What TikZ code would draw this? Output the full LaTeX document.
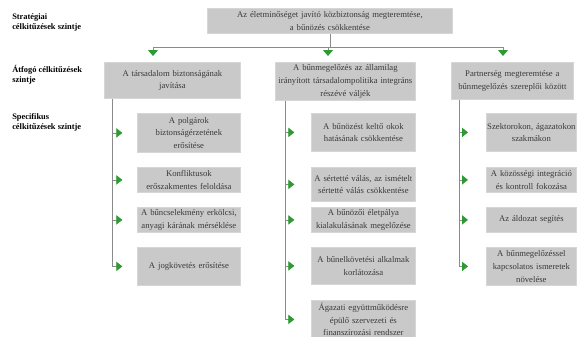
\documentclass[tikz,border=0pt]{standalone}
\usepackage{fontspec}
\setmainfont{Liberation Serif}
\usepackage{tikz}
\usetikzlibrary{arrows.meta,positioning}
\definecolor{boxGray}{HTML}{C9C9C9}
\definecolor{boxEdge}{HTML}{D6D6D6}
\definecolor{boxText}{HTML}{3A3A3A}
\definecolor{linkGray}{HTML}{8A8A8A}
\definecolor{tipGreen}{HTML}{2E9A34}
\tikzset{
  goalbox/.style={fill=boxGray,draw=boxEdge,line width=0.6pt,anchor=north west,
    inner xsep=1.5pt,inner ysep=1pt,align=center,text=boxText,
    font=\fontsize{6.5}{9.5}\selectfont},
  narrowbox/.style={goalbox,inner xsep=0.25pt,text width=67pt},
  levellabel/.style={anchor=north west,inner sep=0pt,align=left,
    font=\fontsize{6.3}{7.8}\selectfont\bfseries},
  link/.style={draw=linkGray,line width=0.6pt},
  arrD/.style={link,-{Triangle[length=4.5pt,width=7.5pt,color=tipGreen]}},
  arrR/.style={link,-{Triangle[length=4.5pt,width=7pt,color=tipGreen]}}
}

\begin{document}
\begin{tikzpicture}[x=0.75pt,y=-0.75pt]
    \useasboundingbox (0,0) rectangle (578,336);
    % szintek
    \node[levellabel] (lv1) at (12,13) {Stratégiai\\célkitűzések szintje};
    \node[levellabel] (lv2) at (12,65) {Átfogó célkitűzések\\szintje};
    \node[levellabel] (lv3) at (12,113) {Specifikus\\célkitűzések szintje};
    % stratégiai cél
    \node[goalbox,text width=180.75pt,minimum height=18.75pt] (top) at (207,8)
      {Az életminőséget javító közbiztonság megteremtése,\\a bűnözés csökkentése};
    % átfogó célok
    \node[goalbox,text width=99pt,minimum height=27pt] (a1) at (104,62)
      {A társadalom biztonságának\\javítása};
    \node[goalbox,text width=102pt,minimum height=28.5pt] (a2) at (275,62)
      {A bűnmegelőzés az államilag\\irányított társadalompolitika integráns\\részévé váljék};
    \node[goalbox,text width=88.5pt,minimum height=27.75pt] (a3) at (451,62)
      {Partnerség megteremtése a\\bűnmegelőzés szereplői között};
    % specifikus célok
    \node[goalbox,text width=74.25pt,minimum height=29.25pt] (s11) at (137,113)
      {A polgárok\\biztonságérzetének\\erősítése};
    \node[goalbox,text width=74.25pt,minimum height=18.75pt] (s12) at (137,167)
      {Konfliktusok\\erőszakmentes feloldása};
    \node[goalbox,text width=74.25pt,minimum height=18.75pt] (s13) at (137,207)
      {A bűncselekmény erkölcsi,\\anyagi kárának mérséklése};
    \node[goalbox,text width=74.25pt,minimum height=28.5pt] (s14) at (137,247)
      {A jogkövetés erősítése};
    \node[goalbox,text width=75pt,minimum height=28.5pt] (s21) at (311,113)
      {A bűnözést keltő okok\\hatásának csökkentése};
    \node[goalbox,text width=75pt,minimum height=25.5pt] (s22) at (311,167)
      {A sértetté válás, az ismételt\\sértetté válás csökkentése};
    \node[goalbox,text width=75pt,minimum height=18.75pt] (s23) at (311,207)
      {A bűnözői életpálya\\kialakulásának megelőzése};
    \node[goalbox,text width=75pt,minimum height=27.75pt] (s24) at (311,247)
      {A bűnelkövetési alkalmak\\korlátozása};
    \node[goalbox,text width=75pt,minimum height=28.5pt] (s25) at (311,300)
      {Ágazati együttműködésre\\épülő szervezeti és\\finanszírozási rendszer};
    \node[narrowbox,minimum height=28.5pt] (s31) at (486,113)
      {Szektorokon, ágazatokon\\szakmákon};
    \node[narrowbox,minimum height=18.75pt] (s32) at (486,167)
      {A közösségi integráció\\és kontroll fokozása};
    \node[narrowbox,minimum height=18.75pt] (s33) at (486,207)
      {Az áldozat segítés};
    \node[narrowbox,minimum height=28.5pt] (s34) at (486,247)
      {A bűnmegelőzéssel\\kapcsolatos ismeretek\\növelése};
    % elosztó vonal
    \coordinate (d1) at (153,47);
    \coordinate (d2) at (328,47);
    \coordinate (d3) at (503,47);
    \draw[link] (top.south) -- (top.south |- d2);
    \draw[link] (d1) -- (d3);
    \foreach \d/\b in {d1/a1,d2/a2,d3/a3}
      \draw[arrD] (\d) -- ([yshift=4.5pt]\d |- \b.north);
    % törzsvonalak
    \coordinate (t1) at ([xshift=6pt]a1.south west);
    \coordinate (t2) at ([xshift=7.5pt]a2.south west);
    \coordinate (t3) at ([xshift=6pt]a3.south west);
    \draw[link] (t1) -- (t1 |- s14.west);
    \draw[link] (t2) -- (t2 |- s25.west);
    \draw[link] (t3) -- (t3 |- s34.west);
    \foreach \n in {s11,s12,s13,s14}
      \draw[arrR] (t1 |- \n.west) -- ([xshift=-11pt]\n.west);
    \foreach \n in {s21,s22,s23,s24,s25}
      \draw[arrR] (t2 |- \n.west) -- ([xshift=-12.5pt]\n.west);
    \foreach \n in {s31,s32,s33,s34}
      \draw[arrR] (t3 |- \n.west) -- ([xshift=-13.5pt]\n.west);
  \end{tikzpicture}
\end{document}
